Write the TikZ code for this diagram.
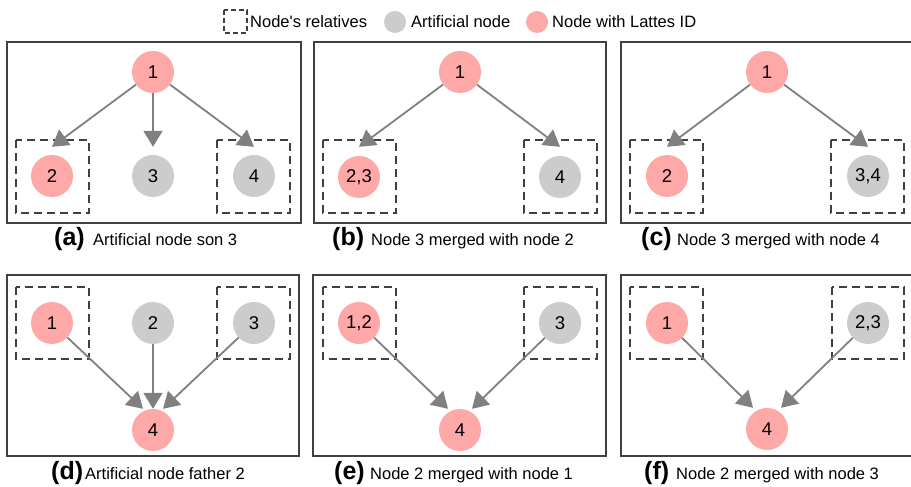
\documentclass[tikz,border=0pt]{standalone}
\usepackage{fontspec}
\setmainfont{Liberation Sans}
\usetikzlibrary{arrows.meta}
\definecolor{pinknode}{HTML}{FFA8A8}
\definecolor{graynode}{HTML}{CCCCCC}
\definecolor{arrowgray}{HTML}{808080}
\definecolor{framegray}{HTML}{404040}
\tikzset{
  lbl/.style={font=\fontsize{16.5bp}{18bp}\selectfont},
  nodelbl/.style={font=\fontsize{18.5bp}{20bp}\selectfont},
  pinkn/.style={circle, fill=pinknode, minimum size=42bp, inner sep=0pt, nodelbl},
  grayn/.style={circle, fill=graynode, minimum size=42bp, inner sep=0pt, nodelbl},
  legpink/.style={circle, fill=pinknode, minimum size=22bp, inner sep=0pt},
  leggray/.style={circle, fill=graynode, minimum size=22bp, inner sep=0pt},
  relbox/.style={draw=framegray, line width=1.1bp, dash pattern=on 8bp off 5bp},
  panel/.style={draw=framegray, line width=1.4bp},
  arr/.style={draw=arrowgray, line width=1.8bp, -{Triangle[length=16bp,width=19bp]}},
  captag/.style={anchor=base west, inner sep=0pt, font=\fontsize{25bp}{27bp}\selectfont\bfseries},
  captext/.style={anchor=base west, inner sep=0pt, lbl},
  legtext/.style={anchor=base west, inner sep=0pt, lbl}
}
\begin{document}
\begin{tikzpicture}[x=1bp, y=-1bp]
\useasboundingbox (0,0) rectangle (911,487);
\fill[white] (0,0) rectangle (911,487);

% legend
\draw[relbox, dash pattern=on 5bp off 3bp] (224,10) rectangle (247,33);
\node[legtext] (lt1) at (250,28) {Node\textquotesingle s relatives};
\node[leggray] (lg) at (395,22) {};
\node[legtext] (lt2) at (411,28) {Artificial node};
\node[legpink] (lp) at (537,22) {};
\node[legtext] (lt3) at (552,28) {Node with Lattes ID};

% panel frames
\draw[panel] (7,42) rectangle (301,223);
\draw[panel] (314,42) rectangle (606,223);
\draw[panel] (621,42) rectangle (915,223);
\draw[panel] (7,275) rectangle (299,456);
\draw[panel] (313,275) rectangle (606,456);
\draw[panel] (621,275) rectangle (915,456);

% (a)
\draw[relbox] (16,140) rectangle (89,213);
\draw[relbox] (217,140) rectangle (290,213);
\node[pinkn] (a1) at (153,72) {1};
\node[pinkn] (a2) at (52,176) {2};
\node[grayn] (a3) at (153,176) {3};
\node[grayn] (a4) at (254,176) {4};
\draw[arr] (a1) -- ([yshift=8bp]a2.north);
\draw[arr] (a1) -- ([yshift=8bp]a3.north);
\draw[arr] (a1) -- ([yshift=8bp]a4.north);
\node[captag] (capa) at (54,246) {(a)};
\node[captext] (capat) at (93,246) {Artificial node son 3};

% (b)
\draw[relbox] (323,140) rectangle (396,213);
\draw[relbox] (524,140) rectangle (597,213);
\node[pinkn] (b1) at (460,72) {1};
\node[pinkn] (b23) at (359,177) {2,3};
\node[grayn] (b4) at (560,177) {4};
\draw[arr] (b1) -- ([yshift=9bp]b23.north);
\draw[arr] (b1) -- ([yshift=9bp]b4.north);
\node[captag] (capb) at (332,246) {(b)};
\node[captext] (capbt) at (371,246) {Node 3 merged with node 2};

% (c)
\draw[relbox] (630,140) rectangle (703,213);
\draw[relbox] (831,140) rectangle (904,213);
\node[pinkn] (c1) at (767,72) {1};
\node[pinkn] (c2) at (667,176) {2};
\node[grayn] (c34) at (868,176) {3,4};
\draw[arr] (c1) -- ([yshift=8bp]c2.north);
\draw[arr] (c1) -- ([yshift=8bp]c34.north);
\node[captag] (capc) at (641,246) {(c)};
\node[captext] (capct) at (677,246) {Node 3 merged with node 4};

% (d)
\draw[relbox] (16,287) rectangle (89,359);
\draw[relbox] (217,287) rectangle (290,359);
\node[pinkn] (d1) at (52,323) {1};
\node[grayn] (d2) at (153,323) {2};
\node[grayn] (d3) at (254,323) {3};
\node[pinkn] (d4) at (153,430) {4};
\draw[arr] (d1) -- ([xshift=-10bp]d4.north);
\draw[arr] (d2) -- (d4.north);
\draw[arr] (d3) -- ([xshift=10bp]d4.north);
\node[captag] (capd) at (51,479) {(d)};
\node[captext] (capdt) at (85,479) {Artificial node father 2};

% (e)
\draw[relbox] (323,287) rectangle (396,359);
\draw[relbox] (524,287) rectangle (597,359);
\node[pinkn] (e12) at (359,323) {1,2};
\node[grayn] (e3) at (560,323) {3};
\node[pinkn] (e4) at (460,430) {4};
\draw[arr] (e12) -- ([xshift=-12bp]e4.north);
\draw[arr] (e3) -- ([xshift=12bp]e4.north);
\node[captag] (cape) at (334,479) {(e)};
\node[captext] (capet) at (370,479) {Node 2 merged with node 1};

% (f)
\draw[relbox] (630,287) rectangle (703,359);
\draw[relbox] (832,287) rectangle (904,359);
\node[pinkn] (f1) at (667,323) {1};
\node[grayn] (f23) at (868,323) {2,3};
\node[pinkn] (f4) at (767,429) {4};
\draw[arr] (f1) -- ([xshift=-14bp]f4.north);
\draw[arr] (f23) -- ([xshift=14bp]f4.north);
\node[captag] (capf) at (644,479) {(f)};
\node[captext] (capft) at (676,479) {Node 2 merged with node 3};
\end{tikzpicture}
\end{document}
